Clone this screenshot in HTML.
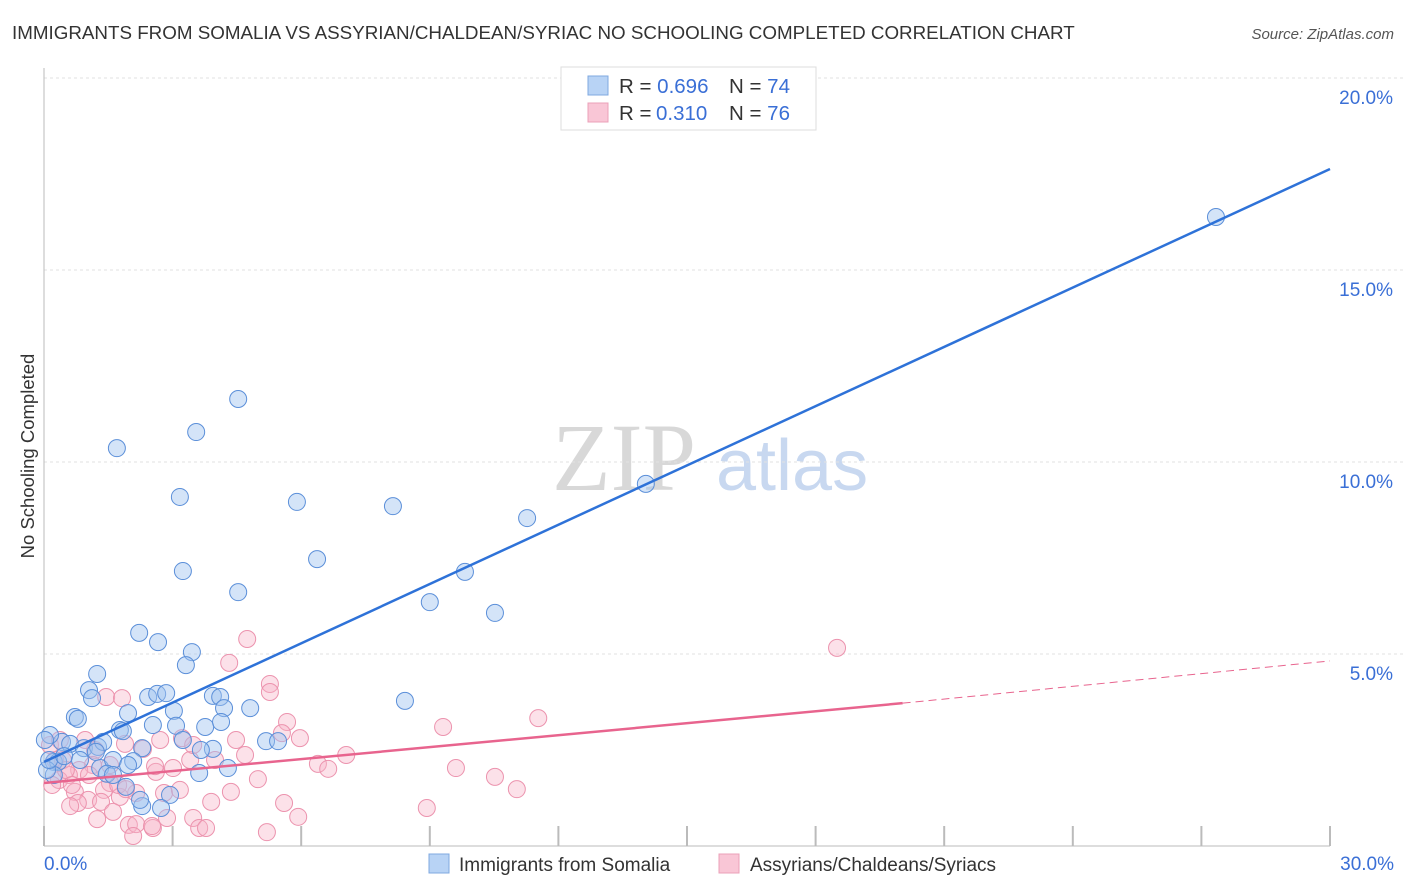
<!DOCTYPE html>
<html><head><meta charset="utf-8"><style>
body{margin:0;background:#fff;font-family:"Liberation Sans",sans-serif;}
svg{display:block}
</style></head><body>
<svg id="chart" width="1406" height="892">
<text x="12" y="39" font-size="18.8" fill="#333">IMMIGRANTS FROM SOMALIA VS ASSYRIAN/CHALDEAN/SYRIAC NO SCHOOLING COMPLETED CORRELATION CHART</text>
<text x="1394" y="39" font-size="15" fill="#555" font-style="italic" text-anchor="end">Source: ZipAtlas.com</text>
<g>
<text x="552" y="490" font-size="96" font-family="Liberation Serif,serif" fill="#d8d8d8">ZIP</text>
<text x="716" y="490" font-size="72" fill="#c8d8f0">atlas</text>
</g>
<g id="grid"></g>
<g id="axes"></g>
<g id="pts"></g>
<g id="lines"></g>
<text transform="translate(34,456) rotate(-90)" font-size="18.5" fill="#333" text-anchor="middle">No Schooling Completed</text>
<g>
<rect x="561" y="67" width="255" height="63" fill="#fff" stroke="#ddd"/>
<rect x="588" y="76" width="20" height="19" fill="#b8d3f5" stroke="#7fa8e0"/>
<rect x="588" y="103" width="20" height="19" fill="#f9c6d6" stroke="#eba0b8"/>
<text x="619" y="93" font-size="20.5" fill="#333">R = <tspan fill="#3a6fd6">0.696</tspan><tspan x="729">N = </tspan><tspan fill="#3a6fd6">74</tspan></text>
<text x="619" y="120" font-size="20.5" fill="#333">R = <tspan x="656" fill="#3a6fd6">0.310</tspan><tspan x="729">N = </tspan><tspan fill="#3a6fd6">76</tspan></text>
</g>
<g>
<rect x="429" y="854" width="20" height="19" fill="#b8d3f5" stroke="#7fa8e0"/>
<text x="459" y="871" font-size="19" fill="#333">Immigrants from Somalia</text>
<rect x="719" y="854" width="20" height="19" fill="#f9c6d6" stroke="#eba0b8"/>
<text x="750" y="871" font-size="19" fill="#333">Assyrians/Chaldeans/Syriacs</text>
</g>
</svg>
<script>
const yTicks=[5,10,15,20];
const xTickLabels=["0.0%","30.0%"];
const blueX=[27.34,14.04,11.27,8.14,5.90,3.17,1.70,3.55,4.53,6.37,3.24,4.53,9.00,10.52,9.82,2.22,2.66,3.45,3.31,1.24,1.05,1.12,2.43,2.64,2.85,3.94,4.11,4.81,4.20,8.42,0.72,0.79,1.96,3.03,1.77,1.84,2.54,3.08,3.76,4.13,0.42,0.61,0.93,1.26,1.38,2.29,3.94,3.66,5.18,5.46,0.23,0.33,1.31,1.61,2.08,1.96,4.29,3.62,1.47,1.61,0.23,0.07,0.12,1.91,2.94,2.29,2.73,0.14,0.02,1.21,0.47,0.84,2.24,3.24];
const blueY=[16.38,9.43,8.54,8.85,8.96,9.09,10.36,10.78,11.64,7.47,7.16,6.61,6.35,6.07,7.14,5.55,5.31,5.05,4.71,4.48,4.06,3.85,3.88,3.96,3.98,3.91,3.88,3.59,3.59,3.78,3.36,3.31,3.46,3.52,3.02,2.99,3.15,3.13,3.10,3.23,2.71,2.66,2.55,2.58,2.71,2.55,2.53,2.50,2.73,2.73,2.19,2.19,2.03,2.24,2.21,2.11,2.03,1.90,1.88,1.85,1.85,1.98,2.24,1.54,1.33,1.04,0.99,2.89,2.76,2.45,2.34,2.24,1.20,2.76];
const pinkX=[18.50,4.74,4.32,5.27,5.27,1.45,1.82,5.67,9.31,11.53,5.55,5.97,4.48,1.89,1.19,2.31,3.22,7.05,6.39,6.63,9.61,10.52,11.03,4.99,4.36,2.61,2.59,3.01,1.14,0.82,0.58,0.35,0.19,1.54,1.40,0.72,1.77,1.73,2.15,1.91,1.03,1.33,0.79,0.61,3.90,2.80,5.60,8.93,1.24,1.61,1.98,2.15,2.54,2.87,3.48,3.62,3.78,5.93,5.20,2.08,2.52,0.26,0.44,0.14,0.37,0.96,0.51,0.65,1.05,1.54,3.41,3.48,3.99,2.71,4.69,3.17];
const pinkY=[5.16,5.39,4.77,4.22,4.01,3.88,3.85,3.23,3.10,3.33,2.94,2.81,2.76,2.66,2.50,2.53,2.81,2.37,2.14,2.01,2.03,1.80,1.48,1.74,1.41,1.93,2.08,2.03,2.11,1.98,1.85,1.72,1.59,1.64,1.46,1.41,1.28,1.59,1.38,1.48,1.20,1.15,1.12,1.04,1.15,1.38,1.12,0.99,0.70,0.89,0.55,0.57,0.47,0.73,0.73,0.47,0.47,0.76,0.36,0.26,0.52,2.24,2.24,2.63,2.76,2.76,1.98,1.59,1.85,2.11,2.24,2.63,2.24,2.76,2.37,1.46];
const blueTrend=[2.19,17.63];
const pinkTrend=[1.64,3.72,4.82];
const pinkSolidEnd=20.03;

const X0=44,X1=1330,YB=846,PX_PER=38.4;
const sx=v=>X0+(v/30)*(X1-X0);
const sy=v=>YB-v*PX_PER;
const NS="http://www.w3.org/2000/svg";
function mk(tag,attrs,parent){const e=document.createElementNS(NS,tag);for(const k in attrs)e.setAttribute(k,attrs[k]);document.getElementById(parent).appendChild(e);return e;}

yTicks.forEach(t=>{
  const l=mk('line',{x1:X0,x2:X1+80,y1:sy(t),y2:sy(t),stroke:'#e2e2e2','stroke-dasharray':'3,3'},'grid');
  
  
  const tx=mk('text',{x:1393,y:sy(t)+26,'font-size':19,fill:'#3a6fd6','text-anchor':'end'},'grid');
  tx.textContent=t.toFixed(1)+'%';
  
  
});
let a=mk('line',{x1:X0,x2:X0,y1:68,y2:YB,stroke:'#bbb'},'axes');


a=mk('line',{x1:X0,x2:X1,y1:YB,y2:YB,stroke:'#bbb'},'axes');


for(let i=0;i<=10;i++){
  const t=mk('line',{x1:sx(i*3),x2:sx(i*3),y1:826,y2:YB,stroke:'#bbb','stroke-width':2},'axes');
  
  
}
[[0,'start',44],[30,'end',1394]].forEach((p,i)=>{
  const t=mk('text',{x:p[2],y:870,'font-size':19,fill:'#3a6fd6','text-anchor':p[1]},'axes');
  t.textContent=xTickLabels[i];
  
  
});
pinkX.forEach((v,i)=>{
  const c=mk('circle',{cx:sx(v),cy:sy(pinkY[i]),r:8.5,fill:'rgba(247,180,200,0.4)',stroke:'#ec93ae','stroke-width':1},'pts');
  
  
});
blueX.forEach((v,i)=>{
  const c=mk('circle',{cx:sx(v),cy:sy(blueY[i]),r:8.5,fill:'rgba(160,196,240,0.45)',stroke:'#5b8fd9','stroke-width':1},'pts');
  
  
});
let ln=mk('line',{x1:sx(0),y1:sy(blueTrend[0]),x2:sx(30),y2:sy(blueTrend[1]),stroke:'#2e72d8','stroke-width':2.5},'lines');


ln=mk('line',{x1:sx(0),y1:sy(pinkTrend[0]),x2:sx(pinkSolidEnd),y2:sy(pinkTrend[1]),stroke:'#e8648e','stroke-width':2.5},'lines');


ln=mk('line',{x1:sx(pinkSolidEnd),y1:sy(pinkTrend[1]),x2:sx(30),y2:sy(pinkTrend[2]),stroke:'#e8648e','stroke-width':1,'stroke-dasharray':'8,5'},'lines');


</script>
</body></html>
